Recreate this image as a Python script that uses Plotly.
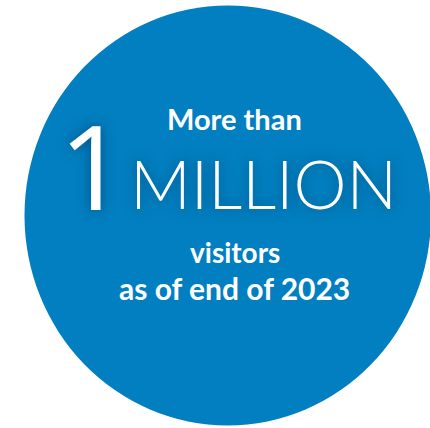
import plotly.graph_objects as go

# ---- content ----
headline_top = "More than"
headline_number = "1"
headline_unit = "MILLION"
caption_lines = ["visitors", "as of end of 2023"]

W, H = 430, 428
BLUE = "#027fc0"

fig = go.Figure()
fig.update_layout(
    width=W, height=H,
    margin=dict(l=0, r=0, t=0, b=0),
    paper_bgcolor="white", plot_bgcolor="white",
    xaxis=dict(range=[0, W], visible=False, fixedrange=True),
    yaxis=dict(range=[H, 0], visible=False, fixedrange=True),
    showlegend=False,
)

fig.add_shape(type="circle", xref="x", yref="y",
              x0=24.5, x1=431, y0=5.5, y1=425.5,
              fillcolor=BLUE, line_width=0, layer="below")

shadow = "0px 0px 14px rgba(0,40,80,0.55)"

fig.add_annotation(x=234.5, y=118, xref="x", yref="y", text=headline_top,
                   showarrow=False, xanchor="center", yanchor="middle",
                   font=dict(family="Lato", size=29, color="white", weight="bold"))
fig.add_annotation(x=92, y=164, xref="x", yref="y", text=headline_number,
                   showarrow=False, xanchor="center", yanchor="middle",
                   font=dict(family="Open Sans", size=118, color="white", weight=400, shadow=shadow))
fig.add_annotation(x=263, y=183, xref="x", yref="y", text=headline_unit,
                   showarrow=False, xanchor="center", yanchor="middle",
                   font=dict(family="Lato", size=67, color="white", weight=300, shadow=shadow))
fig.add_annotation(x=235, y=252, xref="x", yref="y", text=caption_lines[0],
                   showarrow=False, xanchor="center", yanchor="middle",
                   font=dict(family="Lato", size=28, color="white", weight="bold"))
fig.add_annotation(x=234.5, y=288, xref="x", yref="y", text=caption_lines[1],
                   showarrow=False, xanchor="center", yanchor="middle",
                   font=dict(family="Lato", size=30, color="white", weight="bold"))

fig.write_html("out.html", config={"displayModeBar": False},
               post_script="document.body.style.margin='0';document.body.style.padding='0';")
